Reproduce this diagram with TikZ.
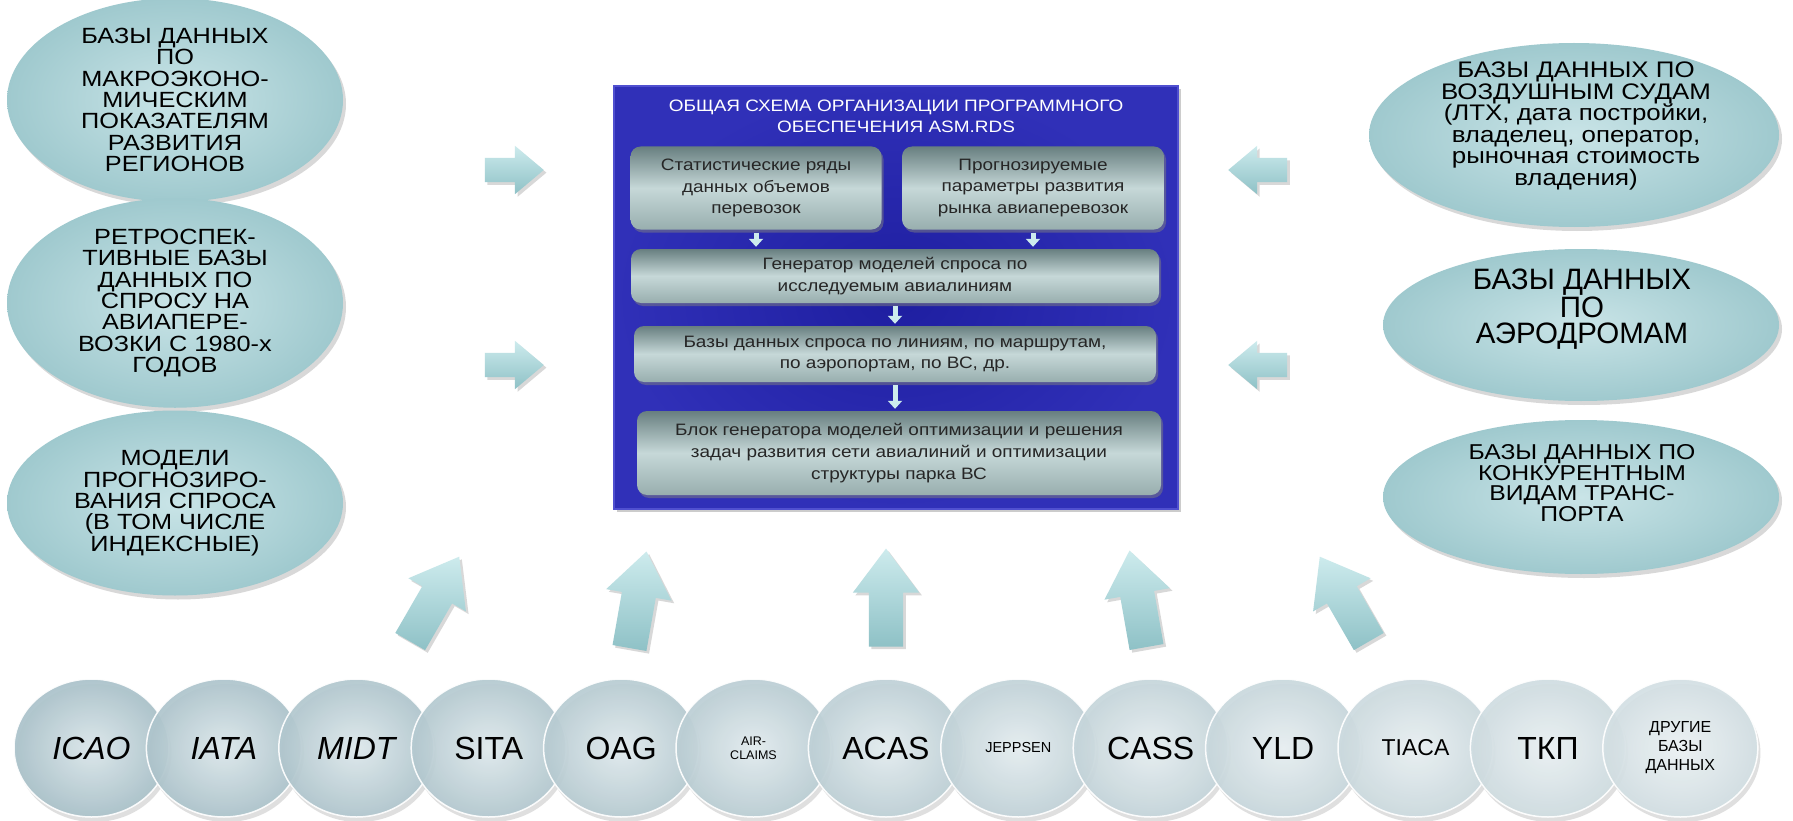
\documentclass[tikz,border=0pt]{standalone}
\usepackage{fontspec}
\setmainfont{Liberation Sans}[FakeStretch=1.15]
\newfontfamily\plainfont{Liberation Sans}
\usetikzlibrary{shapes.geometric,shapes.arrows,shadows,arrows.meta,positioning}

\newcommand{\setfs}[2]{\fontsize{#1}{#2}\selectfont}
\newcommand{\bigsrc}{\plainfont\setfs{32}{32}}

\definecolor{ellin}{HTML}{C9E4E7}
\definecolor{ellout}{HTML}{9FC9CE}
\definecolor{asmin}{HTML}{1E1EA0}
\definecolor{asmout}{HTML}{3030B8}
\definecolor{asmrim}{HTML}{5050D0}
\definecolor{blktop}{HTML}{687F80}
\definecolor{blkmid}{HTML}{C6D8D8}
\definecolor{blkbot}{HTML}{98AEAE}
\definecolor{arrlt}{HTML}{CDEBED}
\definecolor{arrdk}{HTML}{8EC1C6}
\definecolor{srcin}{HTML}{DCE8EC}
\definecolor{srcout}{HTML}{A9C1C9}

\begin{document}
\begin{tikzpicture}[x=1pt,y=-1pt,
  dbell/.style={ellipse, inner sep=0pt, align=center, text=black,
    inner color=ellin, outer color=ellout,
    drop shadow={opacity=0.3, shadow xshift=3pt, shadow yshift=-4pt}},
  dbtext/.style={align=center, text=black, inner sep=0pt},
  asmbox/.style={rectangle, inner color=asmin, outer color=asmout,
    draw=asmrim, line width=2pt, drop shadow={opacity=0.4}},
  blk/.style={rectangle, rounded corners=10pt, align=center, text=black!85,
    top color=blktop, bottom color=blkbot, middle color=blkmid,
    font=\setfs{16.5}{21.7},
    drop shadow={opacity=0.5, shadow xshift=2pt, shadow yshift=-3pt}},
  flowarr/.style={draw=arrlt, line width=5pt, shorten <=3pt, shorten >=2pt,
    -{Triangle[width=14pt,length=8pt]}},
  sidearr/.style={single arrow, inner xsep=0pt, inner ysep=12pt,
    single arrow head extend=12pt, single arrow tip angle=80,
    minimum height=59pt, top color=arrlt, bottom color=arrdk,
    drop shadow={opacity=0.3}},
  uparr/.style={single arrow, inner xsep=0pt, inner ysep=17pt,
    single arrow head extend=16pt, single arrow tip angle=74,
    minimum height=98pt, top color=arrlt, bottom color=arrdk,
    drop shadow={opacity=0.3}},
  src/.style={ellipse, minimum width=155pt, minimum height=138pt, inner sep=0pt,
    align=center, draw=white, line width=1.5pt, opacity=0.92, text opacity=1,
    drop shadow={opacity=0.25, shadow yshift=-5pt}}
]
\path[use as bounding box, fill=white] (0,0) rectangle (1793,821);

% left databases
\node[dbell, minimum width=336pt, minimum height=186pt, font=\setfs{22}{21.4}] (makro) at (175,100)
  {БАЗЫ ДАННЫХ\\ПО\\МАКРОЭКОНО-\\МИЧЕСКИМ\\ПОКАЗАТЕЛЯМ\\РАЗВИТИЯ\\РЕГИОНОВ};
\node[dbell, minimum width=336pt, minimum height=183pt, font=\setfs{22}{21.4}] (retro) at (175,303)
  {РЕТРОСПЕК-\\ТИВНЫЕ БАЗЫ\\ДАННЫХ ПО\\СПРОСУ НА\\АВИАПЕРЕ-\\ВОЗКИ С 1980-х\\ГОДОВ};
\node[dbell, minimum width=336pt, minimum height=185pt, font=\setfs{22}{21.4}] (model) at (175,503)
  {МОДЕЛИ\\ПРОГНОЗИРО-\\ВАНИЯ СПРОСА\\(В ТОМ ЧИСЛЕ\\ИНДЕКСНЫЕ)};

% right databases (text sits above the middle)
\node[dbell, minimum width=410pt, minimum height=184pt] (vs) at (1574,135) {};
\node[dbtext, font=\setfs{22.5}{21.5}] (vstext) at (1576,126)
  {БАЗЫ ДАННЫХ ПО\\ВОЗДУШНЫМ СУДАМ\\(ЛТХ, дата постройки,\\владелец, оператор,\\рыночная стоимость\\владения)};
\node[dbell, minimum width=396pt, minimum height=152pt] (aero) at (1581,325) {};
\node[dbtext, font=\plainfont\setfs{29.5}{26}] (aerotext) at (1582,309)
  {БАЗЫ ДАННЫХ\\ПО\\АЭРОДРОМАМ};
\node[dbell, minimum width=396pt, minimum height=154pt] (konk) at (1581,497) {};
\node[dbtext, font=\setfs{21.5}{20.6}] (konktext) at (1582,483)
  {БАЗЫ ДАННЫХ ПО\\КОНКУРЕНТНЫМ\\ВИДАМ ТРАНС-\\ПОРТА};

% central scheme
\node[asmbox, minimum width=564pt, minimum height=423pt] (asm) at (896,297.5) {};
\node[text=white, align=center, font=\setfs{16.5}{21}] (title) at (896,116)
  {ОБЩАЯ СХЕМА ОРГАНИЗАЦИИ ПРОГРАММНОГО\\ОБЕСПЕЧЕНИЯ ASM.RDS};
\node[blk, minimum width=251pt, minimum height=83pt] (stat) at (756,188)
  {Статистические ряды\\данных объемов\\перевозок};
\node[blk, minimum width=262pt, minimum height=83pt] (prog) at (1033,188)
  {Прогнозируемые\\параметры развития\\рынка авиаперевозок};
\node[blk, minimum width=528pt, minimum height=54pt] (gen) at (895,276)
  {Генератор моделей спроса по\\исследуемым авиалиниям};
\node[blk, minimum width=522pt, minimum height=56pt] (bd) at (895,354)
  {Базы данных спроса по линиям, по маршрутам,\\по аэропортам, по ВС, др.};
\node[blk, minimum width=524pt, minimum height=84pt] (blok) at (899,453)
  {Блок генератора моделей оптимизации и решения\\задач развития сети авиалиний и оптимизации\\структуры парка ВС};

\draw[flowarr] (stat.south) -- (stat.south |- gen.north);
\draw[flowarr] (prog.south) -- (prog.south |- gen.north);
\draw[flowarr] (gen.south) -- (gen.south |- bd.north);
\draw[flowarr] (bd.south) -- (bd.south |- blok.north);

% side arrows
\node[sidearr] (lin1) at (507,170) {};
\node[sidearr] (lin2) at (507,365) {};
\node[sidearr, rotate=180] (rin1) at (1265,170) {};
\node[sidearr, rotate=180] (rin2) at (1265,365) {};

% arrows from the bottom row
\node[uparr, rotate=60] (up1) at (429,609) {};
\node[uparr, rotate=80] (up2) at (636,611) {};
\node[uparr, rotate=90] (up3) at (886,609) {};
\node[uparr, rotate=100] (up4) at (1140,610) {};
\node[uparr, rotate=120] (up5) at (1350,609) {};

% bottom row of sources
\foreach \nm/\fnt/\lbl [count=\i from 0] in {
    icao/{\bigsrc\itshape}/ICAO, iata/{\bigsrc\itshape}/IATA,
    midt/{\bigsrc\itshape}/MIDT, sita/\bigsrc/SITA, oag/\bigsrc/OAG,
    airclaims/{\plainfont\setfs{12.5}{14}}/{AIR-\\CLAIMS}, acas/\bigsrc/ACAS,
    jeppsen/{\plainfont\setfs{14.5}{16}}/JEPPSEN, cass/\bigsrc/CASS,
    yld/\bigsrc/YLD, tiaca/{\plainfont\setfs{23}{24}}/TIACA,
    tkp/\bigsrc/ТКП, drugie/{\plainfont\setfs{16}{19}}/{ДРУГИЕ\\БАЗЫ\\ДАННЫХ}} {
  \pgfmathtruncatemacro\sh{100-4*\i}
  \node[src, inner color=srcin!\sh!white, outer color=srcout!\sh!white, font=\fnt]
    (\nm) at ({91.5+132.4*\i},748) {\lbl};
}
\end{tikzpicture}
\end{document}
